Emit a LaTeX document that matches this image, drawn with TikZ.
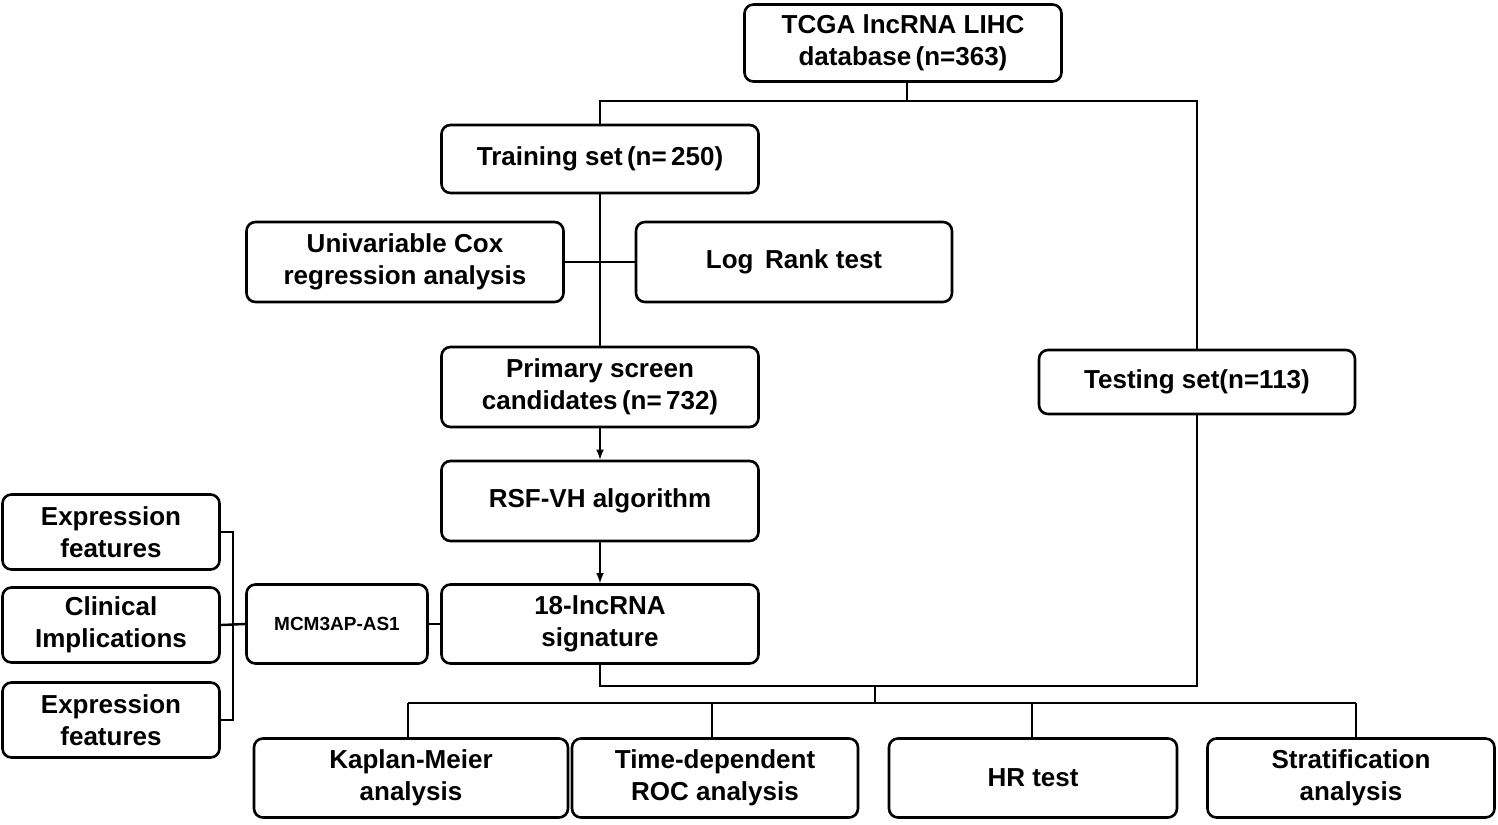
\documentclass[tikz,border=0pt]{standalone}
\usepackage{fontspec}
\setmainfont{Liberation Sans}
\begin{document}
\begin{tikzpicture}[x=1pt,y=-1pt,
  bx/.style={draw,line width=2.6pt,rounded corners=9pt,align=center,font=\fontsize{26}{32}\selectfont\bfseries,inner sep=0pt},
  ln/.style={line width=2.4pt},
  ar/.style={line width=2.4pt,-latex}]
\useasboundingbox (0,0) rectangle (1498,824);
\newcommand{\bxat}[6]{\node[bx,minimum width=#4,minimum height=#5] (#1) at (#2,#3) {#6};}
\bxat{tcga}{903}{43}{317pt}{77pt}{TCGA lncRNA LIHC\\database\,(n=363)}
\bxat{train}{600}{159}{317pt}{68pt}{Training set\,(n=\,250)}
\bxat{uni}{405}{262}{317pt}{80pt}{Univariable Cox\\regression analysis}
\bxat{log}{794}{262}{316pt}{80pt}{Log\, Rank test}
\bxat{prim}{600}{387}{317pt}{80pt}{Primary screen\\candidates\,(n=\,732)}
\bxat{test}{1197}{382}{316pt}{64pt}{Testing set(n=113)}
\bxat{rsf}{600}{501}{317pt}{80pt}{RSF-VH algorithm}
\bxat{sig}{600}{624}{317pt}{79pt}{18-lncRNA\\signature}
\node[bx,minimum width=181pt,minimum height=79pt,font=\fontsize{19}{23}\selectfont\bfseries] (mcm) at (337,624) {MCM3AP-AS1};
\bxat{e1}{111}{532}{217pt}{75pt}{Expression\\features}
\bxat{cl}{111}{625}{217pt}{75pt}{Clinical\\Implications}
\bxat{e2}{111}{720}{217pt}{75pt}{Expression\\features}
\bxat{km}{411}{778}{314pt}{79pt}{Kaplan-Meier\\analysis}
\bxat{roc}{715}{778}{286pt}{79pt}{Time-dependent\\ROC analysis}
\bxat{hr}{1033}{778}{288pt}{79pt}{HR test}
\bxat{st}{1351}{778}{287pt}{79pt}{Stratification\\analysis}
\coordinate (s) at (907,101);
\draw[ln] (tcga.south -| s) -- (s);
\draw[ln] (train.north) |- (s) -| (test.north);
\draw[ln] (train.south) -- (prim.north);
\draw[ln] (uni.east) -- (log.west);
\draw[ar] (prim.south) -- (rsf.north);
\draw[ar] (rsf.south) -- (sig.north);
\coordinate (j) at (875,686);
\draw[ln] (sig.south) |- (j) -| (test.south);
\coordinate (h) at (875,703);
\draw[ln] (j) -- (h);
\draw[ln] (408,703) -- (1356,703);
\draw[ln] (408,703) -- (408,739);
\draw[ln] (712,703) -- (712,739);
\draw[ln] (1032,703) -- (1032,739);
\draw[ln] (1356,703) -- (1356,739);
\draw[ln] (mcm.east) -- (sig.west);
\coordinate (b) at (233,625);
\draw[ln] (e1.east) -| (b);
\draw[ln] (e2.east) -| (b);
\draw[ln] (cl.east) -- (mcm.west);
\end{tikzpicture}
\end{document}
